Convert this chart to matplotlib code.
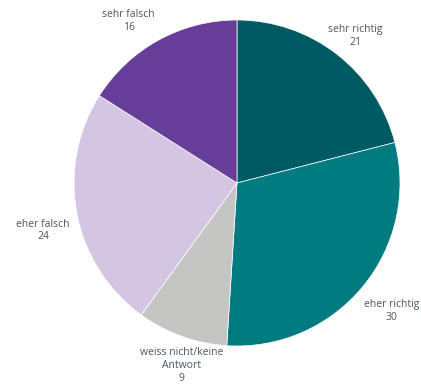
import numpy as np
import matplotlib
matplotlib.use('Agg')
import matplotlib.pyplot as plt

plt.rcParams['font.family'] = ['Open Sans', 'DejaVu Sans']

# data
categories = ['sehr richtig', 'eher richtig', 'weiss nicht/keine\nAntwort', 'eher falsch', 'sehr falsch']
values = [21, 30, 9, 24, 16]
colors = ['#005a64', '#007b80', '#c5c5c3', '#d4c6e2', '#663d98']

W, H = 421, 387
fig = plt.figure(figsize=(W / 100, H / 100), dpi=100)
cx, cy, R = 237, 183, 163
ax = fig.add_axes([(cx - R) / W, 1 - (cy + R) / H, 2 * R / W, 2 * R / H])

wedges, _ = ax.pie(values, colors=colors, startangle=90, counterclock=False,
                   radius=1, wedgeprops=dict(edgecolor='white', linewidth=0.5))
ax.set_xlim(-1, 1)
ax.set_ylim(-1, 1)
ax.set_aspect('auto')

# label placement: (distance in radii, angle nudge in degrees)
label_pos = [(1.155, -1), (1.23, 0), (1.17, 3), (1.225, 3), (1.195, 5)]
for w, cat, v, (d, dt) in zip(wedges, categories, values, label_pos):
    ang = np.deg2rad((w.theta1 + w.theta2) / 2 + dt)
    ax.text(d * np.cos(ang), d * np.sin(ang), f'{cat}\n{v}', ha='center', va='center',
            fontsize=7.5, color='#4a5560', linespacing=1.2, clip_on=False)

fig.savefig('out.png', dpi=100, facecolor='white')
